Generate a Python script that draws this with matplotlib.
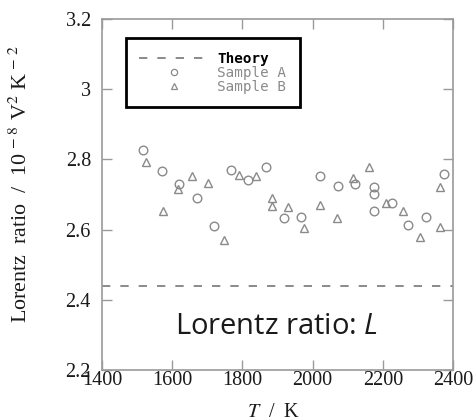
import matplotlib
matplotlib.use("Agg")
import matplotlib.pyplot as plt
from matplotlib.lines import Line2D

plt.rcParams['mathtext.fontset'] = 'stix'
plt.rcParams['mathtext.it'] = 'Open Sans:italic'
plt.rcParams['mathtext.rm'] = 'Open Sans'

# Data
theory_value = 2.44
sample_a_T = [1516, 1572, 1618, 1672, 1718, 1767, 1815, 1867, 1918, 1968,
              2021, 2072, 2120, 2175, 2175, 2175, 2225, 2272, 2324, 2373]
sample_a_L = [2.826, 2.768, 2.729, 2.690, 2.610, 2.771, 2.741, 2.777, 2.632, 2.635,
              2.754, 2.724, 2.731, 2.721, 2.701, 2.652, 2.677, 2.612, 2.637, 2.757]
sample_b_T = [1525, 1573, 1617, 1657, 1703, 1748, 1789, 1838, 1884, 1884,
              1931, 1976, 2022, 2070, 2114, 2161, 2210, 2258, 2307, 2363, 2363]
sample_b_L = [2.792, 2.654, 2.715, 2.753, 2.734, 2.571, 2.756, 2.753, 2.691, 2.668,
              2.664, 2.605, 2.669, 2.634, 2.746, 2.779, 2.676, 2.652, 2.578, 2.720, 2.606]
x_ticks = [1400, 1600, 1800, 2000, 2200, 2400]
y_ticks = [2.2, 2.4, 2.6, 2.8, 3.0, 3.2]
y_ticklabels = ['2.2', '2.4', '2.6', '2.8', '3', '3.2']

fig = plt.figure(figsize=(4.74, 4.2), dpi=100)
ax = fig.add_axes([102/474, 1-370/420, 351/474, 351/420])

gray = '#8a8a8a'
ax.axhline(theory_value, color='#777777', lw=1.2, dashes=(5, 6), zorder=1)
ax.plot(sample_a_T, sample_a_L, 'o', mfc='none', mec=gray, mew=1.0, ms=6.2, zorder=3)
ax.plot(sample_b_T, sample_b_L, '^', mfc='none', mec=gray, mew=1.0, ms=6.2, zorder=3)

ax.set_xlim(1400, 2400)
ax.set_ylim(2.2, 3.2)
ax.set_xticks(x_ticks)
ax.set_yticks(y_ticks)
ax.set_yticklabels(y_ticklabels)

for s in ax.spines.values():
    s.set_color('#9a9a9a')
    s.set_linewidth(1.2)
ax.tick_params(direction='in', length=7, width=1, color='#9a9a9a',
               top=True, right=True, labelsize=14.5, labelcolor='#1a1a1a')
ax.tick_params(axis='x', pad=1)
ax.tick_params(axis='y', pad=8)
for lab in ax.get_xticklabels() + ax.get_yticklabels():
    lab.set_family('Liberation Serif')

ax.set_xlabel(r'$T$  /  K', fontsize=14.5, family='Liberation Serif', color='#1a1a1a')
ax.xaxis.set_label_coords(0.49, -0.094)
ax.set_ylabel(r'Lorentz  ratio  /  10$^{\,-\,8}$ V$^{2}$ K$^{\,-\,2}$', fontsize=15.8,
              family='Liberation Serif', color='#1a1a1a')
ax.yaxis.set_label_coords(-0.201, 0.53)

ax.text(1898, 2.325, r'Lorentz ratio: $\mathit{L}$', fontsize=21, family='Open Sans',
        ha='center', va='center', color='#1a1a1a', math_fontfamily='custom')

handles = [Line2D([], [], color='#777777', lw=1.2, dashes=(5, 6)),
           Line2D([], [], marker='o', ls='none', mfc='none', mec=gray, mew=0.9, ms=4.5),
           Line2D([], [], marker='^', ls='none', mfc='none', mec=gray, mew=0.9, ms=4.5)]
leg = ax.legend(handles, ['Theory', 'Sample A', 'Sample B'],
                loc='upper left', bbox_to_anchor=(0.068, 0.946),
                prop={'family': 'DejaVu Sans Mono', 'size': 10.3},
                handlelength=4.8, handletextpad=0.65, labelspacing=0.0,
                borderpad=0.95, fancybox=False, framealpha=1, borderaxespad=0)
leg.get_frame().set_edgecolor('black')
leg.get_frame().set_linewidth(2)
texts = leg.get_texts()
texts[0].set_color('black')
texts[0].set_fontweight('bold')
texts[1].set_color('#8a8a8a')
texts[2].set_color('#8a8a8a')

fig.savefig('out.png', dpi=100)
